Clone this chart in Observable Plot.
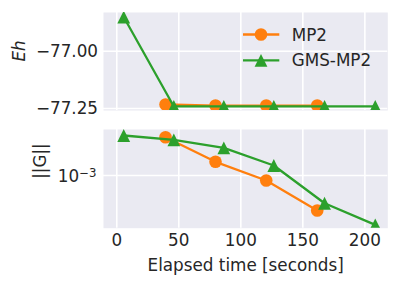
<!DOCTYPE html>
<html>
<head>
<meta charset="utf-8">
<script src="https://cdn.jsdelivr.net/npm/d3@7"></script>
<script src="https://cdn.jsdelivr.net/npm/@observablehq/plot@0.6"></script>
<style>
  body { margin: 0; background: white; }
  #c { position: relative; width: 399px; height: 285px; overflow: hidden; }
  #c svg { position: absolute; left: 0; }
</style>
</head>
<body>
<div id="c"></div>
<script>
// ---- data ----
const seriesNames = ["MP2", "GMS-MP2"];
const seriesColors = ["#ff7f0e", "#2ca02c"];

const timeMP2 = [39.3, 79.6, 120.5, 161.6];
const energyMP2 = [-77.2326, -77.237, -77.237, -77.237];
const gradMP2 = [2.415e-3, 1.371e-3, 8.91e-4, 4.47e-4];

const timeGMS = [5.6, 46.0, 86.3, 126.6, 167.5, 208.4];
const energyGMS = [-76.851, -77.241, -77.241, -77.241, -77.241, -77.241];
const gradGMS = [2.512e-3, 2.275e-3, 1.892e-3, 1.259e-3, 5.28e-4, 3.21e-4];

const xTicks = [0, 50, 100, 150, 200];
const energyTicks = [-77.25, -77.00];
const gradTicks = [1e-3];
const gradTickBase = ["10"];
const gradTickExp = ["\u22123"];

const xLabel = "Elapsed time [seconds]";
const energyLabel = "Eh";
const gradLabel = "||G||";

// ---- build tables ----
const mp2 = timeMP2.map((t, i) => ({t, e: energyMP2[i], g: gradMP2[i]}));
const gms = timeGMS.map((t, i) => ({t, e: energyGMS[i], g: gradGMS[i]}));
const gradTickRows = gradTicks.map((v, i) => ({v, label: gradTickBase[i] + gradTickExp[i], i}));

const FONT = "DejaVu Sans";
const FS = 16.8;
const TXT = "#262626";
const BG = "#eaeaf2";
const style = {fontFamily: FONT, fontSize: FS + "px", color: TXT, background: "transparent", overflow: "visible"};
const xDomain = [-10.7, 218.5];

const tri = {
  draw(ctx, size) {
    const r = Math.sqrt(size / Math.PI);
    ctx.moveTo(0, -r); ctx.lineTo(r, r); ctx.lineTo(-r, r); ctx.closePath();
  }
};

function seriesMarks(yKey) {
  return [
    Plot.line(mp2, {x: "t", y: yKey, stroke: seriesColors[0], strokeWidth: 2.3, clip: true}),
    Plot.dot(mp2, {x: "t", y: yKey, fill: seriesColors[0], r: 6.3, symbol: "circle", clip: true}),
    Plot.line(gms, {x: "t", y: yKey, stroke: seriesColors[1], strokeWidth: 2.3, clip: true}),
    Plot.dot(gms, {x: "t", y: yKey, fill: seriesColors[1], r: 6.4, symbol: tri, clip: true})
  ];
}

const grid = {stroke: "white", strokeOpacity: 1, strokeWidth: 1.6};

const topPlot = Plot.plot({
  width: 399, height: 120,
  marginTop: 12, marginBottom: 10, marginLeft: 103, marginRight: 11.7,
  style,
  x: {domain: xDomain, axis: null},
  y: {domain: [-77.2587, -76.8311], axis: null},
  marks: [
    Plot.frame({fill: BG}),
    Plot.gridX(xTicks, {...grid}),
    Plot.gridY(energyTicks, {...grid}),
    ...seriesMarks("e"),
    Plot.axisY(energyTicks, {tickSize: 0, tickPadding: 5.5, tickFormat: d3.format(".2f"), label: null, fill: TXT}),
    Plot.text([energyLabel], {text: d => d, frameAnchor: "left", rotate: -90, dx: 19.5 - 103, fontStyle: "italic", fill: TXT, fontSize: FS})
  ]
});
topPlot.style.top = "0px";

const bottomPlot = Plot.plot({
  width: 399, height: 167,
  marginTop: 11, marginBottom: 57.3, marginLeft: 103, marginRight: 11.7,
  style,
  x: {domain: xDomain, axis: null},
  y: {type: "log", domain: [2.972e-4, 2.884e-3], axis: null},
  marks: [
    Plot.frame({fill: BG}),
    Plot.gridX(xTicks, {...grid}),
    Plot.ruleY(gradTickRows, {y: "v", ...grid}),
    ...seriesMarks("g"),
    Plot.text(gradTickRows, {y: "v", text: "label", frameAnchor: "left", textAnchor: "end", dx: -7, dy: 1, fill: TXT, fontSize: FS, className: "logtick"}),
    Plot.axisX(xTicks, {tickSize: 0, tickPadding: 6, label: null, fill: TXT}),
    Plot.text([gradLabel], {text: d => d, frameAnchor: "left", rotate: -90, dx: 40.5 - 103, fill: TXT, fontSize: FS}),
    Plot.text([xLabel], {text: d => d, frameAnchor: "bottom", dy: 43, fill: TXT, fontSize: FS})
  ]
});
bottomPlot.style.top = "118px";

// render exponent as a real superscript (keeps text as text)
d3.select(bottomPlot).selectAll("text").each(function () {
  const el = d3.select(this);
  const row = gradTickRows.find(r => r.label === el.text());
  if (!row) return;
  el.text(gradTickBase[row.i]);
  el.append("tspan").attr("dy", "-0.42em").attr("font-size", "0.7em").text(gradTickExp[row.i]);
});

const c = document.getElementById("c");
c.appendChild(topPlot);
c.appendChild(bottomPlot);

// ---- legend (upper right of the top panel) ----
const leg = d3.create("svg").attr("width", 399).attr("height", 90)
  .style("position", "absolute").style("top", "0px").style("left", "0px");
const rows = [34.5, 60.3];
seriesNames.forEach((name, i) => {
  const y = rows[i];
  leg.append("line").attr("x1", 243).attr("x2", 279.3).attr("y1", y).attr("y2", y)
    .attr("stroke", seriesColors[i]).attr("stroke-width", 2.3);
  if (i === 0) {
    leg.append("circle").attr("cx", 261).attr("cy", y).attr("r", 6.3).attr("fill", seriesColors[i]);
  } else {
    const r = 6.4;
    leg.append("path").attr("d", `M${261},${y - r}L${261 + r},${y + r}L${261 - r},${y + r}Z`).attr("fill", seriesColors[i]);
  }
  leg.append("text").attr("x", 291.7).attr("y", y + 6).attr("fill", TXT)
    .attr("font-family", FONT).attr("font-size", FS).text(name);
});
c.appendChild(leg.node());
</script>
</body>
</html>
